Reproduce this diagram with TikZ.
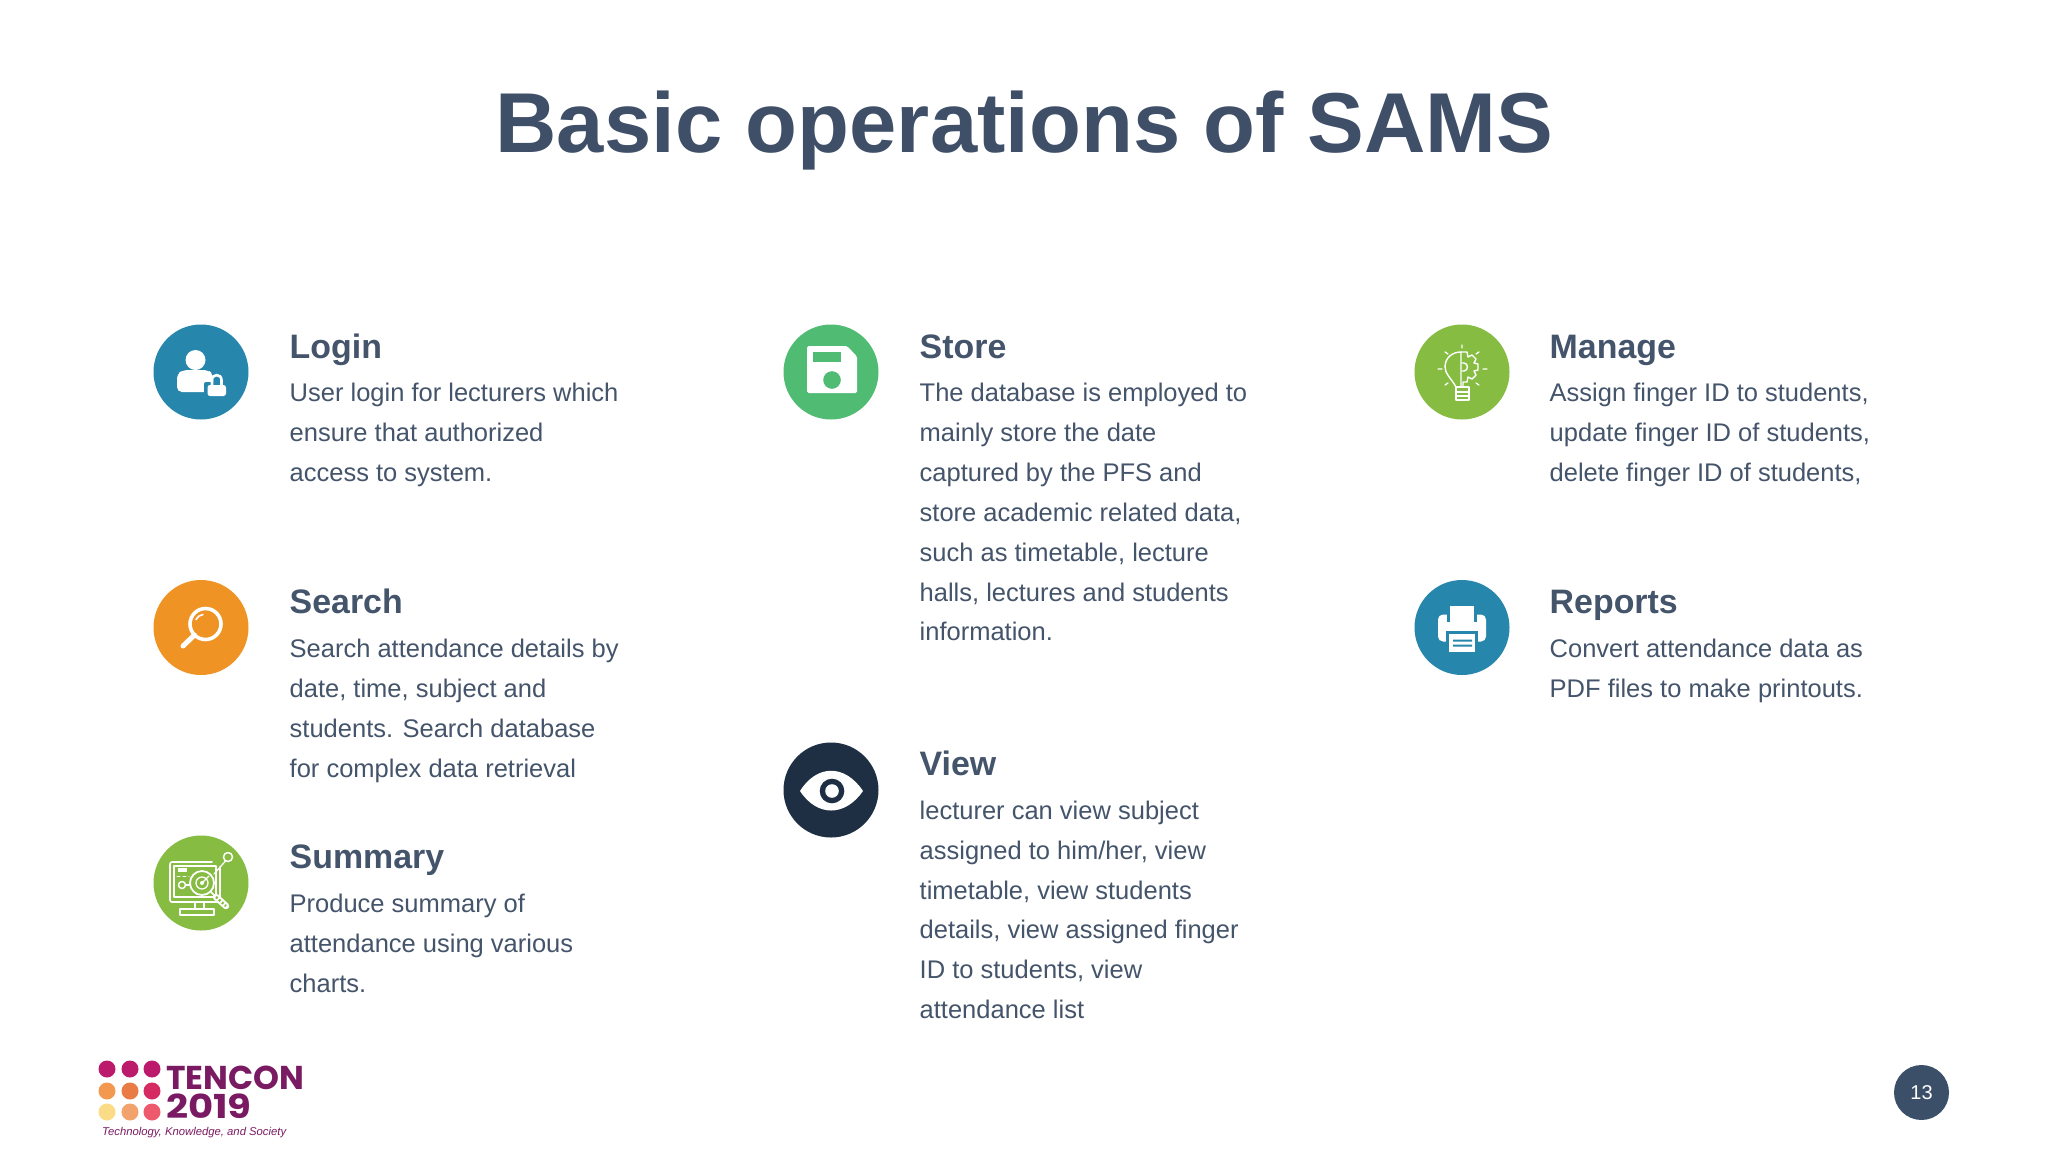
\documentclass[tikz,border=0pt]{standalone}
\usepackage{fontspec}
\usepackage{graphicx}
\setmainfont{Liberation Sans}
\newfontfamily\logofont{Poppins}
\definecolor{titlecol}{HTML}{3F4F68}
\definecolor{bodycol}{HTML}{44546A}
\definecolor{blueicon}{HTML}{2686AC}
\definecolor{orangeicon}{HTML}{F09325}
\definecolor{limeicon}{HTML}{85BC41}
\definecolor{greenicon}{HTML}{50BB72}
\definecolor{darkicon}{HTML}{1E2F43}
\definecolor{pagecol}{HTML}{3B5068}
\definecolor{logopurple}{HTML}{7A1A62}
\definecolor{logoa}{HTML}{BC1B6C}
\definecolor{logob}{HTML}{F3984F}
\definecolor{logoc}{HTML}{E97C45}
\definecolor{logod}{HTML}{D62A63}
\definecolor{logoe}{HTML}{F9DC85}
\definecolor{logof}{HTML}{F1A26D}
\definecolor{logog}{HTML}{EE5A6C}
\newcommand{\firstline}{\rule{0pt}{30pt}}
\tikzset{
  x=1pt,y=-1pt,
  titletxt/.style={anchor=base,inner sep=0pt,text=titlecol,font=\fontsize{85}{85}\selectfont\bfseries},
  headtxt/.style={anchor=base west,inner sep=0pt,text=bodycol,font=\fontsize{33.9}{40}\selectfont\bfseries},
  bodytxt/.style={anchor=north west,inner sep=0pt,align=left,text=bodycol,font=\fontsize{25.5}{39.9}\selectfont},
  iconcirc/.style={circle,inner sep=0pt,minimum size=95pt,fill=#1},
  whiteline/.style={draw=white,line width=#1,line cap=round,line join=round},
  logodot/.style={circle,inner sep=0pt,minimum size=17pt,fill=#1},
  logotxt/.style={anchor=base west,inner sep=0pt,text=logopurple},
}
\begin{document}
\begin{tikzpicture}
\useasboundingbox (0,0) rectangle (2048,1152);
\fill[white] (0,0) rectangle (2048,1152);

\node[titletxt] (title) at (1024.5,152) {Basic operations of SAMS};

% ---------- Login
\node[iconcirc=blueicon] (loginicon) at (201,372) {};
\begin{scope}[shift={(loginicon.center)}]
  \fill[white] (-5.5,-12) circle (10);
  \fill[white,rounded corners=5pt] (-24,20) -- (-24,2) -- (-18,-2) -- (7,-2) -- (12,2) -- (12,20) -- cycle;
  \fill[blueicon,rounded corners=2pt] (3,10) rectangle (29,28);
  \fill[white,rounded corners=2.5pt] (6.5,13) rectangle (25,24);
  \draw[white,line width=2.6pt] (11,14) -- (11,8) .. controls (11,1.5) and (20.5,1.5) .. (20.5,8) -- (20.5,14);
\end{scope}
\node[headtxt] (loginhead) at (289.5,358) {Login};
\node[bodytxt] (loginbody) at (289.5,371.3) {\firstline User login for lecturers which\\ensure that authorized\\access to system.};

% ---------- Search
\node[iconcirc=orangeicon] (searchicon) at (201,627.5) {};
\begin{scope}[shift={(searchicon.center)}]
  \draw[whiteline=3.6pt] (4.5,-3.5) circle (15.5);
  \draw[whiteline=1.6pt] (-5,-8) .. controls (-3.5,-11) and (-1,-12.5) .. (2,-13);
  \draw[whiteline=5pt] (-6.5,7.5) -- (-18,18.5);
\end{scope}
\node[headtxt] (searchhead) at (289.5,613.5) {Search};
\node[bodytxt] (searchbody) at (289.5,627.3) {\firstline Search attendance details by\\date, time, subject and\\students. Search database\\for complex data retrieval};

% ---------- Summary
\node[iconcirc=limeicon] (summaryicon) at (201,883) {};
\begin{scope}[shift={(summaryicon.center)}]
  \draw[whiteline=1.6pt,rounded corners=2pt] (19,-16) -- (19,19) -- (-31,19) -- (-31,-21) -- (11,-21);
  \draw[whiteline=1.3pt] (-27,-17) rectangle (15,14);
  \draw[whiteline=1.6pt] (-6,19) -- (-6,26) (3,19) -- (3,26);
  \draw[whiteline=1.6pt] (-21,26) rectangle (13,32);
  \fill[white] (-23,-15) rectangle (-14,-11);
  \draw[whiteline=1pt,dashed] (-24,-7) -- (-12,-7);
  \draw[whiteline=1.5pt] (-19,2) circle (3.5);
  \draw[whiteline=1.3pt] (-15,2) -- (-10,2);
  \fill[limeicon] (1,0) circle (12);
  \draw[whiteline=1.8pt] (1,0) circle (12);
  \draw[whiteline=1.3pt] (1,0) circle (6);
  \fill[white] (1,0) circle (2);
  \draw[whiteline=1.3pt] (1,0) -- (8,-7);
  \draw[whiteline=1.5pt] (10,9) -- (14,13);
  \draw[whiteline=6.5pt] (15,14) -- (25,23);
  \draw[limeicon,line width=2.5pt,dash pattern=on 2pt off 2pt] (15,14) -- (25,23);
  \draw[whiteline=1.5pt] (27,-26) circle (4.5);
  \draw[whiteline=1.3pt] (24.5,-22) -- (13,-9);
\end{scope}
\node[headtxt] (summaryhead) at (289.5,868.2) {Summary};
\node[bodytxt] (summarybody) at (289.5,882) {\firstline Produce summary of\\attendance using various\\charts.};

% ---------- Store
\node[iconcirc=greenicon] (storeicon) at (831,372) {};
\begin{scope}[shift={(storeicon.center)}]
  \fill[white,rounded corners=1.5pt] (-24,-26) -- (16,-26) -- (26,-15.5) -- (26,21) -- (-24,21) -- cycle;
  \fill[greenicon] (-18,-20) rectangle (10,-10);
  \fill[greenicon] (1,8) circle (8.8);
\end{scope}
\node[headtxt] (storehead) at (919.5,358) {Store};
\node[bodytxt] (storebody) at (919.5,371.3) {\firstline The database is employed to\\mainly store the date\\captured by the PFS and\\store academic related data,\\such as timetable, lecture\\halls, lectures and students\\information.};

% ---------- View
\node[iconcirc=darkicon] (viewicon) at (831,790) {};
\begin{scope}[shift={(viewicon.center)}]
  \fill[white] (-31,1) .. controls (-14,-26) and (14,-26) .. (32,1) .. controls (14,27) and (-14,27) .. (-31,1) -- cycle;
  \fill[darkicon] (1,1) circle (12.3);
  \fill[white] (1,1) circle (6.8);
\end{scope}
\node[headtxt] (viewhead) at (919.5,775.2) {View};
\node[bodytxt] (viewbody) at (919.5,789) {\firstline lecturer can view subject\\assigned to him/her, view\\timetable, view students\\details, view assigned finger\\ID to students, view\\attendance list};

% ---------- Manage
\node[iconcirc=limeicon] (manageicon) at (1462,372) {};
\begin{scope}[shift={(manageicon.center)}]
  \draw[whiteline=1.4pt] (-1,-20) .. controls (-10,-20) and (-17,-14) .. (-17,-5) .. controls (-17,2) and (-11,6) .. (-6,15) -- (-1,15) -- (-1,-20);
  \draw[whiteline=1.4pt] (-1,-20) -- (5,-20) -- (6,-15) -- (10,-17) -- (14,-13) -- (12,-9) -- (16,-8) -- (16,-2) -- (12,-1) -- (14,3) -- (10,7) -- (6,5) -- (5,10) -- (1,10) -- (1,15) -- (-1,15);
  \draw[whiteline=1.4pt] (0,-9) -- (2,-9) .. controls (6.5,-9) and (6.5,-1) .. (2,-1) -- (0,-1);
  \draw[whiteline=1.4pt] (-6,15) rectangle (7,28);
  \draw[whiteline=1.2pt] (-6,20) -- (7,20) (-6,24) -- (7,24);
  \draw[whiteline=1.3pt] (0,-27) -- (0,-24) (-17,-20) -- (-14,-18) (-24,-3) -- (-20,-3) (21,-3) -- (25,-3) (17,-20) -- (14,-18) (-17,13) -- (-14,11) (17,13) -- (14,11);
\end{scope}
\node[headtxt] (managehead) at (1549.5,358) {Manage};
\node[bodytxt] (managebody) at (1549.5,371.3) {\firstline Assign finger ID to students,\\update finger ID of students,\\delete finger ID of students,};

% ---------- Reports
\node[iconcirc=blueicon] (reportsicon) at (1462,627.5) {};
\begin{scope}[shift={(reportsicon.center)}]
  \fill[white,rounded corners=5pt] (-24,-13) rectangle (24,14);
  \fill[blueicon] (-15.5,-24) rectangle (14.5,-6);
  \fill[white] (-12.5,-22) rectangle (12,-5);
  \fill[blueicon] (-16,3) rectangle (16,26);
  \fill[white] (-13,6) rectangle (13,24);
  \fill[blueicon] (-9,12) rectangle (10,14) (-9,17) rectangle (10,19);
\end{scope}
\node[headtxt] (reportshead) at (1549.5,613.5) {Reports};
\node[bodytxt] (reportsbody) at (1549.5,627.3) {\firstline Convert attendance data as\\PDF files to make printouts.};

% ---------- Logo
\node[logodot=logoa] (d11) at (107,1069) {};
\node[logodot=logoa] (d12) at (130,1069) {};
\node[logodot=logoa] (d13) at (152,1069) {};
\node[logodot=logob] (d21) at (107,1091) {};
\node[logodot=logoc] (d22) at (130,1091) {};
\node[logodot=logod] (d23) at (152,1091) {};
\node[logodot=logoe] (d31) at (107,1112) {};
\node[logodot=logof] (d32) at (130,1112) {};
\node[logodot=logog] (d33) at (152,1112) {};
\node[logotxt,font=\logofont\bfseries\fontsize{33}{33}\selectfont] (tencon) at (166,1089.5) {TENCON};
\node[logotxt,font=\logofont\bfseries\fontsize{33}{33}\selectfont] (yeartxt) at (166,1118.5) {\scalebox{1.17}[1]{2019}};
\node[logotxt,font=\itshape\fontsize{11.3}{12}\selectfont] (tagline) at (102,1135.5) {Technology, Knowledge, and Society};

% ---------- Page number
\node[circle,inner sep=0pt,minimum size=55pt,fill=pagecol,text=white,font=\fontsize{20}{20}\selectfont] (pagenum) at (1921.5,1092.5) {13};
\end{tikzpicture}
\end{document}
